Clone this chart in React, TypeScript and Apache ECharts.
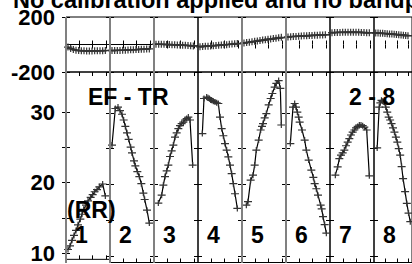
import { useEffect, useRef } from 'react';
import * as echarts from 'echarts';

const TITLE = 'No calibration applied and no bandpass filtering';
const PANEL_NAMES = ['1', '2', '3', '4', '5', '6', '7', '8'];
const TOP_TICKS = [-200, 200];
const TOP_LABELS = [-200, 200];
const BOT_TICKS = [10, 15, 20, 25, 30];
const BOT_LABELS = [10, 20, 30];
const X_TICKS = [0.2, 0.4, 0.6];

// top row (per panel) sample times and values
const TOP_T = [0.03, 0.07, 0.11, 0.15, 0.19, 0.23, 0.27, 0.31, 0.35, 0.39, 0.43, 0.47, 0.51, 0.55, 0.59];
const TOP_P1 = [-19, -29, -37, -41, -44, -45, -46, -47, -47, -47, -46, -46, -45, -45, -44];
const TOP_P2 = [-44, -44, -43, -43, -42, -41, -40, -39, -38, -37, -36, -35, -34, -33, -32];
const TOP_P3 = [2, 2, 1, 1, 0, 0, -1, -2, -3, -4, -5, -6, -7, -9, -11];
const TOP_P4 = [-17, -15, -13, -12, -10, -9, -7, -6, -4, -2, -1, 1, 3, 5, 7];
const TOP_P5 = [11, 14, 17, 20, 23, 26, 29, 32, 35, 38, 40, 43, 46, 49, 52];
const TOP_P6 = [55, 57, 58, 59, 60, 62, 63, 64, 65, 66, 67, 68, 69, 70, 71];
const TOP_P7 = [86, 87, 88, 88, 89, 89, 90, 90, 90, 89, 89, 88, 87, 86, 85];
const TOP_P8 = [84, 83, 82, 81, 80, 79, 77, 76, 74, 73, 71, 69, 67, 66, 64];
const TREND_START = [0, 0, 1, -14, 9, 55, 86, 84];
const TREND_END = [0, 0, -10, 6, 50, 71, 85, 64];

// bottom row (per panel)
const P1_T = [0.03, 0.06, 0.09, 0.12, 0.15, 0.18, 0.215, 0.24, 0.265, 0.3, 0.33, 0.37, 0.4, 0.43, 0.465, 0.5, 0.55, 0.59];
const P1_V = [10.5, 11.0, 11.8, 12.5, 13.2, 14.0, 14.8, 15.5, 16.2, 16.8, 17.4, 17.9, 18.3, 18.7, 19.0, 19.4, 19.8, 18.1];
const P2_T = [0.03, 0.08, 0.12, 0.15, 0.18, 0.205, 0.23, 0.255, 0.28, 0.31, 0.33, 0.36, 0.38, 0.41, 0.44, 0.47, 0.5, 0.52, 0.555, 0.59];
const P2_V = [25.5, 30.6, 30.8, 30.3, 29.8, 29.0, 28.1, 27.2, 26.3, 25.2, 24.4, 23.3, 22.6, 21.8, 21.1, 20.1, 18.8, 17.9, 16.4, 14.6];
const P3_T = [0.065, 0.115, 0.14, 0.165, 0.19, 0.215, 0.24, 0.265, 0.29, 0.315, 0.34, 0.365, 0.39, 0.415, 0.44, 0.465, 0.49, 0.515, 0.54, 0.58];
const P3_V = [17.4, 18.5, 19.9, 21.1, 21.9, 22.7, 23.9, 24.7, 25.5, 26.6, 27.2, 27.8, 28.2, 28.5, 28.7, 29.0, 29.2, 29.4, 29.0, 22.7];
const P4_T = [0.065, 0.09, 0.13, 0.15, 0.17, 0.19, 0.205, 0.23, 0.255, 0.28, 0.305, 0.33, 0.355, 0.38, 0.405, 0.43, 0.455, 0.48, 0.505, 0.53, 0.555, 0.59];
const P4_V = [27.1, 32.0, 32.2, 32.1, 32.0, 31.8, 31.75, 31.6, 31.5, 31.4, 31.3, 29.4, 27.8, 26.8, 25.7, 24.8, 23.85, 22.7, 21.5, 20.1, 18.7, 16.65];
const P5_T = [0.065, 0.09, 0.13, 0.165, 0.19, 0.215, 0.25, 0.28, 0.3, 0.315, 0.34, 0.365, 0.4, 0.43, 0.455, 0.49, 0.515, 0.55, 0.575, 0.59];
const P5_V = [17.1, 17.6, 20.6, 21.3, 22.7, 24.8, 26.2, 27.6, 28.1, 28.5, 29.3, 29.9, 31.1, 32.0, 32.7, 33.6, 34.1, 34.5, 33.4, 28.3];
const P6_T = [0.065, 0.105, 0.13, 0.15, 0.17, 0.19, 0.205, 0.24, 0.28, 0.305, 0.34, 0.38, 0.41, 0.43, 0.455, 0.48, 0.52, 0.535, 0.555, 0.58, 0.605];
const P6_V = [25.7, 30.8, 31.3, 30.8, 30.1, 29.4, 28.7, 27.6, 26.2, 24.8, 23.4, 22.0, 21.0, 20.1, 19.4, 18.5, 17.1, 16.6, 15.5, 14.4, 13.2];
const P7_T = [0.08, 0.115, 0.14, 0.165, 0.19, 0.215, 0.24, 0.265, 0.29, 0.315, 0.34, 0.365, 0.39, 0.415, 0.44, 0.465, 0.49, 0.515, 0.55, 0.59];
const P7_V = [21.3, 22.45, 23.6, 24.1, 24.4, 24.8, 25.4, 25.9, 26.4, 26.9, 27.3, 27.6, 27.9, 28.1, 28.3, 28.3, 28.2, 28.0, 27.6, 21.2];
const P8_T = [0.055, 0.09, 0.11, 0.13, 0.15, 0.17, 0.205, 0.23, 0.255, 0.28, 0.305, 0.33, 0.355, 0.38, 0.405, 0.43, 0.455, 0.48, 0.505, 0.54, 0.57, 0.6, 0.63];
const P8_V = [25.1, 30.8, 31.4, 31.75, 31.6, 31.5, 30.8, 30.1, 29.4, 29.0, 28.5, 27.9, 27.3, 26.6, 25.9, 25.0, 24.1, 22.5, 20.8, 19.0, 17.35, 16.0, 14.8];

const TOP_SERIES = [TOP_P1, TOP_P2, TOP_P3, TOP_P4, TOP_P5, TOP_P6, TOP_P7, TOP_P8];
const BOT_T = [P1_T, P2_T, P3_T, P4_T, P5_T, P6_T, P7_T, P8_T];
const BOT_V = [P1_V, P2_V, P3_V, P4_V, P5_V, P6_V, P7_V, P8_V];

const FONT = 'Liberation Sans, Arial, sans-serif';
const PLUS = 'path://M0,2.4H8V3.6H0ZM3.4,0H4.6V6H3.4Z';
const X_MAX = 0.66;

export default function App() {
  const ref = useRef<HTMLDivElement>(null);
  useEffect(() => {
    const chart = echarts.init(ref.current!, null, { renderer: 'svg' });
    const LEFT0 = 66;
    const PW = 44;
    const rows = [
      { top: 17, height: 55, min: -200, max: 200, ticks: TOP_TICKS, labels: TOP_LABELS, sym: [8, 7] },
      { top: 72, height: 190.5, min: 9.1, max: 35.7, ticks: BOT_TICKS, labels: BOT_LABELS, sym: [8, 6] },
    ];
    const grid: any[] = [];
    const xAxis: any[] = [];
    const yAxis: any[] = [];
    const series: any[] = [];
    const labelStyle = { fontSize: 22, fontWeight: 'bold', color: '#000', fontFamily: FONT, padding: [4, 0, 0, 0] };
    rows.forEach((r, ri) => {
      for (let c = 0; c < 8; c++) {
        const g = ri * 8 + c;
        grid.push({
          left: LEFT0 + PW * c,
          top: r.top,
          width: PW,
          height: r.height,
          show: true,
          borderColor: '#000',
          borderWidth: 1,
          backgroundColor: 'transparent',
        });
        ['bottom', 'top'].forEach((pos) => {
          xAxis.push({
            gridIndex: g,
            type: 'value',
            position: pos,
            min: 0,
            max: X_MAX,
            axisLine: { show: false },
            axisTick: { show: true, inside: true, length: 4, customValues: X_TICKS, lineStyle: { color: '#000' } },
            axisLabel: { show: false },
            splitLine: { show: false },
          });
        });
        ['left', 'right'].forEach((pos) => {
          const showLab = c === 0 && pos === 'left';
          yAxis.push({
            gridIndex: g,
            type: 'value',
            position: pos,
            min: r.min,
            max: r.max,
            axisLine: { show: false },
            axisTick: { show: true, inside: true, length: 4, customValues: r.ticks, lineStyle: { color: '#000' } },
            axisLabel: showLab
              ? { show: true, customValues: r.labels, margin: 11, ...labelStyle }
              : { show: false },
            splitLine: { show: false },
          });
        });
        const common = {
          xAxisIndex: 2 * g,
          yAxisIndex: 2 * g,
          symbol: PLUS,
          symbolSize: r.sym,
          symbolKeepAspect: false,
          itemStyle: { color: '#333' },
          lineStyle: { color: '#000', width: 1.2 },
          silent: true,
        };
        if (ri === 0) {
          series.push({
            type: 'line',
            xAxisIndex: 2 * g,
            yAxisIndex: 2 * g,
            showSymbol: false,
            data: [[0, TREND_START[c]], [X_MAX, TREND_END[c]]],
            lineStyle: { color: '#000', width: 1 },
            silent: true,
          });
          series.push({
            type: 'line',
            ...common,
            data: TOP_T.map((t, i) => [t, TOP_SERIES[c][i]]),
          });
        } else {
          series.push({
            type: 'line',
            ...common,
            data: BOT_T[c].map((t, i) => [t, BOT_V[c][i]]),
          });
        }
      }
    });

    const grayX = [66, 110, 154, 242, 286];
    const graphic: any[] = grayX.map((x) => ({
      type: 'line',
      shape: { x1: x, y1: 17, x2: x, y2: 263 },
      style: { stroke: '#808080', lineWidth: 2 },
      z: 50,
    }));
    const txt = (text: string, x: number, y: number, size: number) => ({
      type: 'text',
      x,
      y,
      z: 60,
      style: { text, fill: '#000', font: `bold ${size}px ${FONT}`, textAlign: 'left', textVerticalAlign: 'middle' },
    });
    graphic.push(txt(TITLE, 13, 0, 23.5));
    graphic.push(txt('EF - TR', 88, 97, 23));
    graphic.push(txt('2 - 8', 349, 97, 23));
    graphic.push(txt('(RR)', 67, 210, 23));
    PANEL_NAMES.forEach((n, i) => {
      graphic.push(txt(n, LEFT0 + PW * i + 9, 235, 23));
    });

    chart.setOption({
      animation: false,
      backgroundColor: '#fff',
      grid,
      xAxis,
      yAxis,
      series,
      graphic,
    });
    return () => chart.dispose();
  }, []);
  return (
    <div
      ref={ref}
      style={{ position: 'fixed', left: 0, top: 0, width: 412, height: 264, background: '#fff' }}
    />
  );
}
